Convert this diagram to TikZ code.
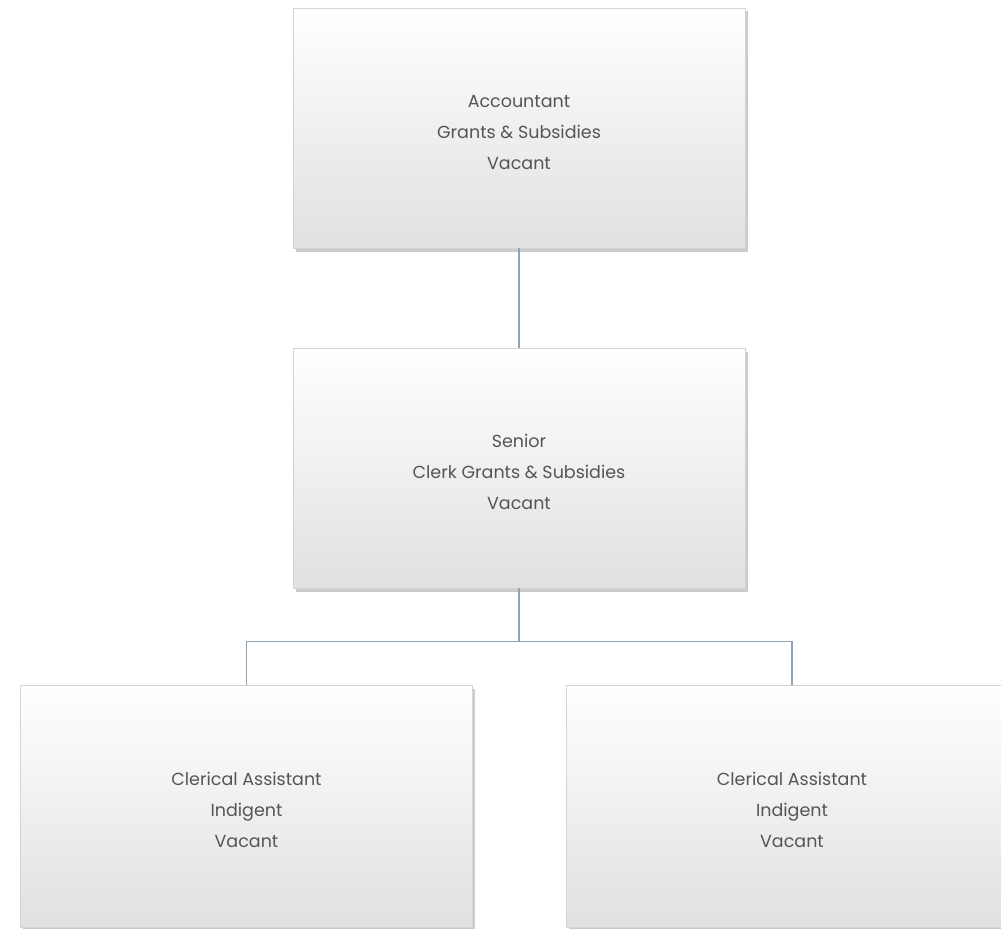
\documentclass[tikz,border=0pt]{standalone}
\usepackage{fontspec}
\setmainfont{Poppins}
\usetikzlibrary{shadows}
\definecolor{linkcol}{HTML}{8FA2B6}
\definecolor{edgecol}{HTML}{D4D4D4}
\definecolor{txtcol}{HTML}{555555}
% a tall strut opening the first line sets the text block a little low
\newcommand{\toplift}{\rule{0pt}{21bp}}
\tikzset{
  post/.style={rectangle, draw=edgecol, line width=0.8bp,
    top color=white, middle color=white, bottom color=black!12,
    minimum width=452bp, minimum height=240bp, inner sep=0pt,
    align=center, text=txtcol,
    font=\fontsize{17.5bp}{31bp}\selectfont,
    drop shadow={shadow xshift=2.5bp, shadow yshift=-3.5bp, fill=black!45, opacity=0.45}},
  link/.style={draw=linkcol, line width=1.4bp}
}
\begin{document}
\begin{tikzpicture}[x=1bp,y=-1bp]
\useasboundingbox[fill=white] (0,0) rectangle (1001,929);
\node[post] (acc) at (519,128) {\toplift Accountant\\Grants \& Subsidies\\Vacant};
\node[post] (sen) at (519,468) {\toplift Senior\\Clerk Grants \& Subsidies\\Vacant};
\node[post, minimum height=242bp] (ca1) at (246.5,806) {\toplift Clerical Assistant\\Indigent\\Vacant};
\node[post, minimum height=242bp] (ca2) at (792,806) {\toplift Clerical Assistant\\Indigent\\Vacant};
\draw[link] (acc.south) -- (sen.north);
\draw[link] (sen.south) -- ++(0,53) coordinate (bus);
\draw[link] (bus) -| (ca1.north);
\draw[link] (bus) -| (ca2.north);
\end{tikzpicture}
\end{document}
